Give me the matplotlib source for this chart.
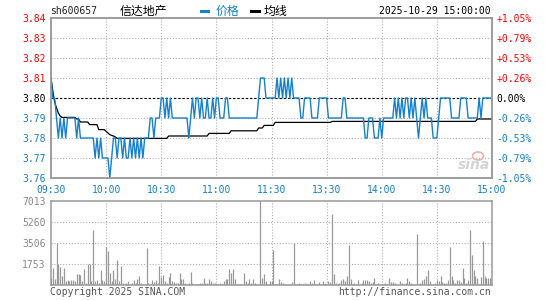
import numpy as np
import matplotlib
matplotlib.use("Agg")
import matplotlib.pyplot as plt
from matplotlib.patches import Rectangle, Ellipse

# ---------------- data ----------------
stock_code = "sh600657"
stock_name = "信达地产"
timestamp = "2025-10-29 15:00:00"
prev_close = 3.80

prices = [
    3.81, 3.80, 3.80, 3.79, 3.78, 3.79, 3.78, 3.79, 3.78, 3.79,
    3.79, 3.79, 3.79, 3.79, 3.78, 3.79, 3.78, 3.78, 3.78, 3.78,
    3.78, 3.78, 3.78, 3.78, 3.77, 3.78, 3.77, 3.78, 3.77, 3.77,
    3.77, 3.77, 3.76, 3.77, 3.78, 3.78, 3.77, 3.78, 3.78, 3.77,
    3.78, 3.77, 3.77, 3.78, 3.77, 3.78, 3.77, 3.78, 3.77, 3.78,
    3.77, 3.78, 3.78, 3.78, 3.79, 3.79, 3.78, 3.79, 3.79, 3.79,
    3.80, 3.80, 3.79, 3.80, 3.79, 3.80, 3.79, 3.79, 3.79, 3.79,
    3.79, 3.79, 3.79, 3.79, 3.79, 3.78, 3.79, 3.80, 3.79, 3.80,
    3.80, 3.79, 3.80, 3.79, 3.79, 3.80, 3.79, 3.79, 3.80, 3.79,
    3.80, 3.80, 3.79, 3.79, 3.79, 3.80, 3.80, 3.79, 3.79, 3.79,
    3.79, 3.79, 3.79, 3.79, 3.79, 3.79, 3.79, 3.79, 3.79, 3.79,
    3.79, 3.79, 3.79, 3.80, 3.81, 3.81, 3.81, 3.80, 3.80, 3.80,
    3.80, 3.80, 3.80, 3.81, 3.80, 3.81, 3.80, 3.81, 3.80, 3.81,
    3.80, 3.81, 3.80, 3.80, 3.80, 3.80, 3.79, 3.79, 3.80, 3.80,
    3.80, 3.80, 3.79, 3.79, 3.79, 3.79, 3.80, 3.80, 3.80, 3.80,
    3.80, 3.79, 3.79, 3.79, 3.79, 3.79, 3.79, 3.79, 3.79, 3.80,
    3.80, 3.79, 3.79, 3.79, 3.79, 3.79, 3.79, 3.79, 3.79, 3.79,
    3.79, 3.78, 3.78, 3.79, 3.79, 3.79, 3.78, 3.78, 3.78, 3.79,
    3.78, 3.79, 3.79, 3.79, 3.79, 3.79, 3.79, 3.80, 3.79, 3.80,
    3.79, 3.80, 3.79, 3.80, 3.80, 3.79, 3.80, 3.79, 3.80, 3.79,
    3.78, 3.79, 3.80, 3.79, 3.80, 3.79, 3.79, 3.79, 3.78, 3.78,
    3.78, 3.79, 3.80, 3.80, 3.80, 3.80, 3.80, 3.80, 3.79, 3.79,
    3.79, 3.79, 3.79, 3.80, 3.80, 3.80, 3.80, 3.79, 3.79, 3.79,
    3.79, 3.79, 3.79, 3.80, 3.79, 3.80, 3.80, 3.80, 3.80, 3.80,
    3.80,
]

avg_prices = [
    3.8100, 3.8033, 3.7980, 3.7950, 3.7925, 3.7910, 3.7903, 3.7903, 3.7903, 3.7903,
    3.7903, 3.7903, 3.7903, 3.7903, 3.7895, 3.7895, 3.7880, 3.7880, 3.7880, 3.7880,
    3.7880, 3.7867, 3.7867, 3.7867, 3.7867, 3.7867, 3.7842, 3.7842, 3.7842, 3.7842,
    3.7833, 3.7825, 3.7817, 3.7813, 3.7810, 3.7805, 3.7798, 3.7798, 3.7798, 3.7798,
    3.7798, 3.7798, 3.7798, 3.7798, 3.7798, 3.7798, 3.7798, 3.7798, 3.7798, 3.7798,
    3.7798, 3.7798, 3.7798, 3.7798, 3.7798, 3.7798, 3.7798, 3.7798, 3.7798, 3.7798,
    3.7798, 3.7798, 3.7798, 3.7798, 3.7810, 3.7810, 3.7810, 3.7810, 3.7810, 3.7810,
    3.7810, 3.7810, 3.7810, 3.7810, 3.7810, 3.7810, 3.7810, 3.7810, 3.7810, 3.7810,
    3.7810, 3.7810, 3.7810, 3.7810, 3.7810, 3.7810, 3.7823, 3.7823, 3.7823, 3.7823,
    3.7823, 3.7823, 3.7823, 3.7823, 3.7823, 3.7823, 3.7823, 3.7823, 3.7836, 3.7836,
    3.7836, 3.7836, 3.7836, 3.7836, 3.7836, 3.7836, 3.7836, 3.7836, 3.7836, 3.7836,
    3.7836, 3.7836, 3.7836, 3.7850, 3.7850, 3.7850, 3.7863, 3.7863, 3.7863, 3.7863,
    3.7863, 3.7863, 3.7878, 3.7878, 3.7878, 3.7878, 3.7878, 3.7878, 3.7878, 3.7878,
    3.7878, 3.7878, 3.7878, 3.7878, 3.7878, 3.7878, 3.7878, 3.7878, 3.7878, 3.7878,
    3.7878, 3.7878, 3.7878, 3.7878, 3.7878, 3.7878, 3.7878, 3.7878, 3.7878, 3.7878,
    3.7878, 3.7878, 3.7878, 3.7883, 3.7883, 3.7883, 3.7883, 3.7883, 3.7883, 3.7883,
    3.7883, 3.7883, 3.7883, 3.7883, 3.7883, 3.7883, 3.7883, 3.7883, 3.7883, 3.7883,
    3.7883, 3.7883, 3.7883, 3.7883, 3.7883, 3.7883, 3.7883, 3.7883, 3.7883, 3.7883,
    3.7883, 3.7883, 3.7883, 3.7883, 3.7883, 3.7883, 3.7883, 3.7883, 3.7883, 3.7883,
    3.7883, 3.7883, 3.7883, 3.7883, 3.7883, 3.7883, 3.7883, 3.7883, 3.7883, 3.7883,
    3.7883, 3.7883, 3.7883, 3.7883, 3.7883, 3.7883, 3.7883, 3.7883, 3.7883, 3.7883,
    3.7883, 3.7883, 3.7883, 3.7883, 3.7883, 3.7883, 3.7883, 3.7883, 3.7883, 3.7883,
    3.7883, 3.7883, 3.7883, 3.7883, 3.7883, 3.7883, 3.7883, 3.7883, 3.7883, 3.7883,
    3.7883, 3.7883, 3.7895, 3.7895, 3.7895, 3.7895, 3.7895, 3.7895, 3.7895, 3.7895,
    3.7895,
]

volumes = [
    584, 1419, 529, 3506, 1781, 1475, 724, 1419, 306, 445,
    306, 445, 445, 306, 918, 918, 863, 362, 1364, 167,
    1781, 1753, 362, 4620, 306, 445, 167, 1280, 445, 362,
    3172, 2811, 1002, 362, 1280, 501, 2115, 306, 1558, 167,
    111, 167, 306, 111, 167, 445, 167, 501, 779, 167,
    111, 111, 3117, 167, 111, 445, 223, 445, 167, 1558,
    668, 863, 362, 167, 668, 1002, 306, 223, 167, 167,
    1002, 529, 529, 167, 111, 167, 1113, 167, 111, 111,
    111, 167, 167, 584, 167, 167, 529, 306, 167, 167,
    111, 111, 167, 111, 306, 501, 529, 1364, 1002, 1364,
    501, 111, 111, 111, 111, 1002, 306, 167, 501, 167,
    529, 167, 111, 111, 7013, 584, 946, 306, 111, 306,
    306, 2950, 111, 111, 529, 223, 167, 111, 111, 111,
    111, 278, 3506, 111, 111, 167, 111, 111, 167, 111,
    111, 362, 167, 445, 111, 111, 278, 111, 362, 167,
    111, 306, 223, 5900, 946, 167, 111, 167, 390, 501,
    362, 779, 3367, 501, 111, 167, 111, 390, 111, 167,
    445, 445, 445, 306, 167, 223, 612, 111, 167, 111,
    111, 111, 167, 111, 612, 278, 278, 167, 111, 111,
    306, 167, 111, 167, 612, 306, 167, 111, 111, 4286,
    111, 167, 445, 501, 724, 1280, 306, 111, 111, 167,
    445, 362, 724, 278, 167, 167, 390, 3200, 779, 390,
    167, 390, 390, 278, 1392, 557, 167, 390, 4564, 2532,
    1225, 724, 557, 111, 668, 3646, 724, 612, 612, 612,
    612,
]

time_ticks = [0, 30, 60, 90, 120, 150, 180, 210, 240]
time_labels = ["09:30", "10:00", "10:30", "11:00", "11:30",
               "13:30", "14:00", "14:30", "15:00"]
price_ticks = [3.76, 3.77, 3.78, 3.79, 3.80, 3.81, 3.82, 3.83, 3.84]
vol_ticks = [1753, 3506, 5260, 7013]

# ---------------- style ----------------
W, H = 545, 300
BLUE = "#1580cc"
RED = "#ff0000"
GRID = "#b0b0b0"
FRAME = "#9a9a9a"
MONO = "DejaVu Sans Mono"
CJK = ["Noto Sans CJK SC", "DejaVu Sans"]
FS = 7


def fx(x):
    return x / W


def fy(y):
    return 1 - y / H


fig = plt.figure(figsize=(W / 100, H / 100), dpi=100)
fig.patch.set_facecolor("white")

ax = fig.add_axes([fx(51), fy(178), 441 / W, 160 / H])
axv = fig.add_axes([fx(51), fy(285), 441 / W, 84 / H])

x = np.arange(len(prices))

# ---- price panel ----
ax.set_xlim(0, 240)
ax.set_ylim(price_ticks[0], price_ticks[-1])
dot = (0, (1, 1.6))
for p in price_ticks[1:-1]:
    if abs(p - prev_close) < 1e-9:
        ax.axhline(p, color="black", lw=0.8, ls=(0, (2.2, 1.6)), zorder=1)
    else:
        ax.axhline(p, color=GRID, lw=0.8, ls=dot, zorder=1)
for t in time_ticks[1:-1]:
    ax.axvline(t, color=GRID, lw=0.8, ls=dot, zorder=1)

ax.plot(x, avg_prices, color="black", lw=0.9, zorder=3)
ax.plot(x, prices, color=BLUE, lw=1.0, zorder=4)

for s in ax.spines.values():
    s.set_color(FRAME)
    s.set_linewidth(1.1)

ax.set_yticks(price_ticks)
ax.set_yticklabels([f"{p:.2f}" for p in price_ticks], fontfamily=MONO, fontsize=FS)
for p, lab in zip(price_ticks, ax.get_yticklabels()):
    if p > prev_close + 1e-9:
        lab.set_color(RED)
    elif p < prev_close - 1e-9:
        lab.set_color(BLUE)
    else:
        lab.set_color("black")
ax.set_xticks(time_ticks)
ax.set_xticklabels(time_labels, fontfamily=MONO, fontsize=FS, color=BLUE)
ax.tick_params(axis="both", length=0)
ax.tick_params(axis="y", pad=4)
ax.tick_params(axis="x", pad=5)

ax2 = ax.twinx()
ax2.set_ylim(ax.get_ylim())
ax2.set_yticks(price_ticks)
pct_labels = []
for p in price_ticks:
    v = (p - prev_close) / prev_close * 100
    if v > 1e-9:
        pct_labels.append(f"+{v:.2f}%")
    elif v < -1e-9:
        pct_labels.append(f"{v:.2f}%")
    else:
        pct_labels.append("0.00%")
ax2.set_yticklabels(pct_labels, fontfamily=MONO, fontsize=FS)
for p, lab in zip(price_ticks, ax2.get_yticklabels()):
    if p > prev_close + 1e-9:
        lab.set_color(RED)
    elif p < prev_close - 1e-9:
        lab.set_color(BLUE)
    else:
        lab.set_color("black")
ax2.tick_params(axis="y", length=0, pad=3)
for s in ax2.spines.values():
    s.set_color(FRAME)
    s.set_linewidth(1.1)

# ---- volume panel ----
axv.set_xlim(0, 240)
axv.set_ylim(0, vol_ticks[-1])
for v in vol_ticks[:-1]:
    axv.axhline(v, color=GRID, lw=0.8, ls=dot, zorder=1)
for t in time_ticks[1:-1]:
    axv.axvline(t, color=GRID, lw=0.8, ls=dot, zorder=1)
axv.vlines(x, 0, volumes, color="#999999", lw=0.9, zorder=3)
axv.set_xticks([])
axv.set_yticks(vol_ticks)
axv.set_yticklabels([str(v) for v in vol_ticks], fontfamily=MONO, fontsize=FS,
                    color="#8a8a8a")
axv.tick_params(axis="y", length=0, pad=4)
for s in axv.spines.values():
    s.set_color(FRAME)
    s.set_linewidth(1.1)

# ---- header ----
yc = fy(11.5)
fig.text(fx(50), yc, stock_code, fontfamily=MONO, fontsize=FS, color="#222222",
         ha="left", va="center")
fig.text(fx(120), yc, stock_name, fontfamily=CJK, fontsize=8.6, color="black",
         ha="left", va="center")
fig.patches.append(Rectangle((fx(200), fy(13)), 10 / W, 3 / H,
                             transform=fig.transFigure, color=BLUE, lw=0))
fig.text(fx(216), yc, "价格", fontfamily=CJK, fontsize=8.6, color=BLUE,
         ha="left", va="center")
fig.patches.append(Rectangle((fx(250), fy(13)), 11 / W, 3 / H,
                             transform=fig.transFigure, color="black", lw=0))
fig.text(fx(264), yc, "均线", fontfamily=CJK, fontsize=8.6, color="black",
         ha="left", va="center")
fig.text(fx(491), yc, timestamp, fontfamily=MONO, fontsize=FS, color="black",
         ha="right", va="center")

# ---- footer ----
fig.text(fx(50), fy(292), "Copyright 2025 SINA.COM", fontfamily=MONO, fontsize=FS,
         color="#555555", ha="left", va="center")
fig.text(fx(491), fy(292), "http://finance.sina.com.cn", fontfamily=MONO,
         fontsize=FS, color="#555555", ha="right", va="center")

# ---- sina watermark ----
fig.patches.append(Ellipse((fx(478), fy(156)), 11 / W, 8 / H,
                           transform=fig.transFigure, facecolor="none",
                           edgecolor="#f0b0b0", lw=1.2))
fig.text(fx(474), fy(165), "sina", fontfamily="DejaVu Sans", fontsize=10,
         fontstyle="italic", fontweight="bold", color="#d4d4d4",
         ha="center", va="center")

fig.savefig("out.png", dpi=100)
